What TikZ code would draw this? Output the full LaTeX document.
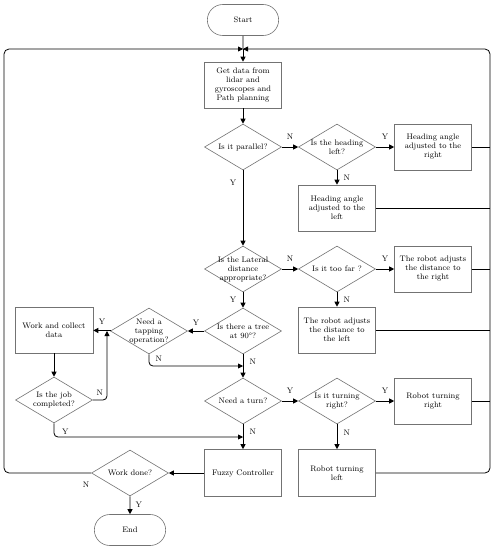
\documentclass[tikz,border=0pt]{standalone}
\usepackage{tikz}
\usetikzlibrary{arrows.meta, positioning, shapes.geometric, shapes.misc}

\begin{document}
\begin{tikzpicture}[x=1pt, y=-1pt,
  every node/.style={font=\fontsize{8}{9}\selectfont},
  box/.style={draw=black!55, line width=0.6pt, fill=white, minimum width=77pt, minimum height=46pt, align=center, inner sep=1pt},
  dec/.style={diamond, draw=black!55, line width=0.6pt, fill=white, minimum width=77pt, minimum height=46pt, inner sep=0pt},
  dtext/.style={align=center, inner sep=0pt},
  term/.style={rounded rectangle, draw=black!55, line width=0.6pt, fill=white, minimum width=78pt, minimum height=31pt},
  line/.style={line width=0.8pt},
  arr/.style={-{Triangle[length=5pt, width=5pt]}, line width=0.8pt}
]
\useasboundingbox (0,0) rectangle (494,550);
% terminals and boxes
\node[term] (start) at (243,20) {Start};
\coordinate (merge) at (243,49);
\node[box] (data) at (243,85) {Get data from\\lidar and\\gyroscopes and\\Path planning};
\node[dec, label={[dtext]center:Is it parallel?}] (par) at (243,147) {};
\node[dec, label={[dtext]center:Is the heading\\left?}] (head) at (337,147) {};
\node[box] (hright) at (433,147) {Heading angle\\adjusted to the\\right};
\node[box] (hleft) at (337,208) {Heading angle\\adjusted to the\\left};
\node[dec, label={[dtext]center:Is the Lateral\\distance\\appropriate?}] (lat) at (243,269) {};
\node[dec, label={[dtext]center:Is it too far ?}] (far) at (337,269) {};
\node[box] (dright) at (433,269) {The robot adjusts\\the distance to\\the right};
\node[box] (dleft) at (337,330) {The robot adjusts\\the distance to\\the left};
\node[dec, label={[dtext]center:Is there a tree\\at 90\textdegree?}] (tree) at (243,331) {};
\node[dec, label={[dtext]center:Need a\\tapping\\operation?}] (tap) at (149,331) {};
\node[box, minimum width=78pt] (work) at (54,330) {Work and collect\\data};
\node[dec, label={[dtext]center:Is the job\\completed?}] (job) at (54,400) {};
\node[dec, label={[dtext]center:Need a turn?}] (turn) at (243,401) {};
\node[dec, label={[dtext]center:Is it turning\\right?}] (tright) at (337,401) {};
\node[box] (rright) at (433,401) {Robot turning\\right};
\node[box, minimum height=47pt] (rleft) at (337,473) {Robot turning\\left};
\node[box, minimum height=47pt] (fuzzy) at (243,473) {Fuzzy Controller};
\node[dec, label={[dtext]center:Work done?}] (done) at (130,473) {};
\node[term] (end) at (130,530) {End};
% junctions
\coordinate (bus) at (490,49);
\coordinate (tj) at (243,366);
\coordinate (wj) at (107,331);
\coordinate (fj) at (243,437);
% main column
\draw[line] (start) -- (merge);
\draw[arr] (merge) -- (data);
\draw[arr] (data) -- (par);
\draw[arr] (par) -- (lat) node[pos=0.17, left=3pt]{Y};
\draw[arr] (lat) -- (tree) node[midway, left=3pt]{Y};
\draw[arr] (tree) -- (turn) node[pos=0.3, right=3pt]{N};
\draw[arr] (turn) -- (fuzzy) node[pos=0.3, right=3pt]{N};
% branches to the right
\draw[arr] (par) -- (head) node[midway, above=4pt]{N};
\draw[arr] (head) -- (hright) node[midway, above=4pt]{Y};
\draw[arr] (head) -- (hleft) node[midway, right=3pt]{N};
\draw[arr] (lat) -- (far) node[midway, above=4pt]{N};
\draw[arr] (far) -- (dright) node[midway, above=4pt]{Y};
\draw[arr] (far) -- (dleft) node[midway, right=3pt]{N};
\draw[arr] (turn) -- (tright) node[midway, above=4pt]{Y};
\draw[arr] (tright) -- (rright) node[midway, above=4pt]{Y};
\draw[arr] (tright) -- (rleft) node[pos=0.35, right=3pt]{N};
% tree branch to the left
\draw[arr] (tree) -- (tap) node[midway, above=2pt]{Y};
\draw[arr] (tap) -- (work) node[midway, above=2pt]{Y};
\draw[arr, rounded corners=4pt] (tap.south) |- (tj) node[pos=0.2, right=3pt]{N};
\draw[arr] (work) -- (job);
\draw[arr, rounded corners=4pt] (job.east) -| (wj) node[pos=0.25, above=1pt]{N};
\draw[arr, rounded corners=4pt] (job.south) |- (fj) node[pos=0.53, above=-1pt]{Y};
% end of cycle
\draw[arr] (fuzzy) -- (done);
\draw[arr] (done) -- (end) node[midway, right=2pt]{Y};
\draw[arr, rounded corners=5pt] (done.west) -- (4,473) -- (4,49) -- (merge);
\node at (86,485) {N};
\draw[arr, rounded corners=5pt] (rleft.east) -- (rleft.east -| bus) -- (bus) -- (merge);
\foreach \n in {hright,hleft,dright,dleft,rright}{
  \draw[line] (\n.east) -- (\n.east -| bus);
}
\end{tikzpicture}
\end{document}
